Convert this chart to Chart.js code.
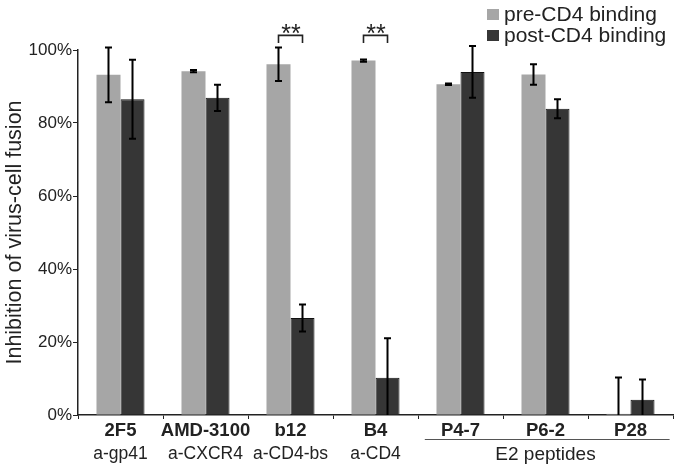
<!DOCTYPE html>
<html>
<head>
<meta charset="utf-8">
<script src="https://cdn.jsdelivr.net/npm/chart.js@4.4.1/dist/chart.umd.min.js"></script>
<style>
  html, body { margin: 0; padding: 0; background: #fff; }
  #wrap { width: 679px; height: 468px; }
</style>
</head>
<body>
<div id="wrap"><canvas id="fusionChart" width="679" height="468"></canvas></div>
<script>
// data
const categories = ['2F5', 'AMD-3100', 'b12', 'B4', 'P4-7', 'P6-2', 'P28'];
const targets = ['a-gp41', 'a-CXCR4', 'a-CD4-bs', 'a-CD4', '', '', ''];
const groupLabel = 'E2 peptides';
const groupFirst = 4; // P4-7
const groupLast = 6;  // P28
const seriesNames = ['pre-CD4 binding', 'post-CD4 binding'];
const preValues = [93.2, 94.2, 96.1, 97.1, 90.6, 93.3, 0.3];
const preErrors = [7.5, 0.3, 4.6, 0.3, 0.2, 2.8, 10.0];
const postValues = [86.5, 86.9, 26.6, 10.2, 94.0, 83.9, 4.2];
const postErrors = [10.8, 3.6, 3.7, 10.8, 7.1, 2.6, 5.5];
const significant = ['b12', 'B4'];
const yTicks = [0, 20, 40, 60, 80, 100];

const FONT = '"Liberation Sans", Arial, Helvetica, sans-serif';
const TEXT = '#222';

// error bars, significance brackets, second label row and legend
const extrasPlugin = {
    id: 'extras',
    afterDatasetsDraw(chart) {
        const ctx = chart.ctx;
        const y = chart.scales.y;
        const errs = [preErrors, postErrors];
        ctx.save();
        ctx.strokeStyle = '#000';
        ctx.lineWidth = 2;
        chart.data.datasets.forEach((ds, di) => {
            const meta = chart.getDatasetMeta(di);
            meta.data.forEach((bar, i) => {
                const v = ds.data[i];
                const e = errs[di][i];
                const top = y.getPixelForValue(v + e);
                const bot = y.getPixelForValue(Math.max(0, v - e));
                const x = bar.x;
                ctx.beginPath();
                ctx.moveTo(x, top);
                ctx.lineTo(x, bot);
                ctx.moveTo(x - 3.5, top);
                ctx.lineTo(x + 3.5, top);
                if (v - e > 0) {
                    ctx.moveTo(x - 3.5, bot);
                    ctx.lineTo(x + 3.5, bot);
                }
                ctx.stroke();
            });
        });

        // ** brackets
        ctx.lineWidth = 1.6;
        ctx.strokeStyle = '#222';
        ctx.fillStyle = TEXT;
        ctx.font = '25px ' + FONT;
        ctx.textAlign = 'center';
        ctx.textBaseline = 'alphabetic';
        significant.forEach(name => {
            const i = categories.indexOf(name);
            const x1 = chart.getDatasetMeta(0).data[i].x;
            const x2 = chart.getDatasetMeta(1).data[i].x;
            const yTop = y.getPixelForValue(104);
            const yLeg = y.getPixelForValue(101.9);
            ctx.beginPath();
            ctx.moveTo(x1, yLeg);
            ctx.lineTo(x1, yTop);
            ctx.lineTo(x2, yTop);
            ctx.lineTo(x2, yLeg);
            ctx.stroke();
            ctx.fillText('**', (x1 + x2) / 2 + 0.5, yTop + 7);
        });
        ctx.restore();
    },
    afterDraw(chart) {
        const ctx = chart.ctx;
        const x = chart.scales.x;
        const w = x.getPixelForValue(1) - x.getPixelForValue(0);
        ctx.save();
        ctx.fillStyle = TEXT;
        ctx.textAlign = 'center';
        ctx.textBaseline = 'middle';
        ctx.font = '17.5px ' + FONT;
        targets.forEach((t, i) => {
            if (t) ctx.fillText(t, x.getPixelForValue(i), x.top + 39.5);
        });

        // bracket line under the peptide group
        const gx1 = x.getPixelForValue(groupFirst) - 0.42 * w;
        const gx2 = x.getPixelForValue(groupLast) + 0.46 * w;
        ctx.strokeStyle = '#555';
        ctx.lineWidth = 1;
        ctx.beginPath();
        ctx.moveTo(gx1, x.top + 24.5);
        ctx.lineTo(gx2, x.top + 24.5);
        ctx.stroke();
        ctx.font = '19px ' + FONT;
        ctx.fillText(groupLabel, (x.getPixelForValue(groupFirst) + x.getPixelForValue(groupLast)) / 2, x.top + 39.5);

        // legend, top right
        ctx.textAlign = 'left';
        ctx.textBaseline = 'alphabetic';
        ctx.font = '21px ' + FONT;
        chart.data.datasets.forEach((ds, di) => {
            const base = 20.5 + di * 21;
            ctx.fillStyle = ds.backgroundColor;
            ctx.fillRect(487, base - 11.5, 12, 11);
            ctx.fillStyle = TEXT;
            ctx.fillText(ds.label, 504, base);
        });
        ctx.restore();
    }
};

const ctx = document.getElementById('fusionChart').getContext('2d');
new Chart(ctx, {
    type: 'bar',
    data: {
        labels: categories,
        datasets: [{
            label: seriesNames[0],
            data: preValues,
            backgroundColor: '#a6a6a6',
            borderWidth: 0
        }, {
            label: seriesNames[1],
            data: postValues,
            backgroundColor: '#363636',
            borderColor: '#111',
            borderWidth: 1
        }]
    },
    options: {
        responsive: false,
        animation: false,
        layout: { padding: { top: 50, right: 6, bottom: 0, left: 0 } },
        datasets: {
            bar: { categoryPercentage: 0.565, barPercentage: 1 }
        },
        plugins: {
            legend: { display: false },
            tooltip: { enabled: false }
        },
        scales: {
            x: {
                grid: { drawOnChartArea: false, offset: true, tickLength: 4, color: '#222', lineWidth: 1 },
                border: { color: '#222', width: 1.5 },
                ticks: {
                    color: TEXT,
                    padding: 1,
                    autoSkip: false,
                    minRotation: 0,
                    maxRotation: 0,
                    font: { family: FONT, size: 18.5, weight: 'bold' }
                },
                afterFit(scale) { scale.height = 53; }
            },
            y: {
                min: 0,
                max: 100,
                afterBuildTicks(scale) { scale.ticks = yTicks.map(v => ({ value: v })); },
                grid: { drawOnChartArea: false, tickLength: 5, color: '#222', lineWidth: 1 },
                border: { color: '#222', width: 1.5 },
                ticks: {
                    color: TEXT,
                    padding: 1,
                    font: { family: FONT, size: 17 },
                    callback: v => v + '%'
                },
                title: {
                    display: true,
                    text: 'Inhibition of virus-cell fusion',
                    color: TEXT,
                    padding: { top: 2, bottom: 0 },
                    font: { family: FONT, size: 21.5 }
                },
                afterFit(scale) { scale.width = 78; }
            }
        }
    },
    plugins: [extrasPlugin]
});
</script>
</body>
</html>
